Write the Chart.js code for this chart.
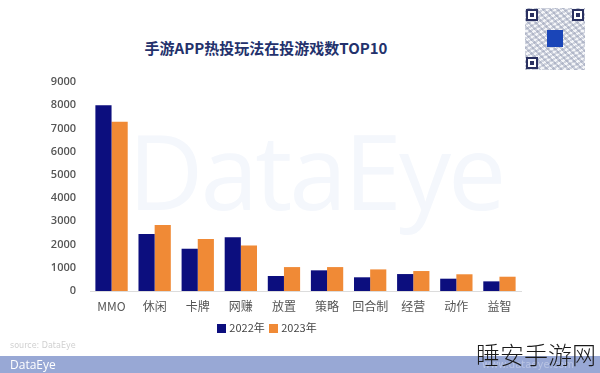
<!DOCTYPE html>
<html>
<head>
<meta charset="utf-8">
<script src="https://cdn.jsdelivr.net/npm/chart.js@4/dist/chart.umd.min.js"></script>
<style>
  html,body{margin:0;padding:0;background:#fff;}
  #wrap{position:relative;width:600px;height:373px;overflow:hidden;background:#fff;font-family:"Noto Sans CJK SC","Noto Sans",sans-serif;}
  #wm{position:absolute;left:128px;top:118px;font-family:"Open Sans","Noto Sans",sans-serif;font-size:104px;color:#f4f7fc;letter-spacing:-3px;line-height:1;}
  #title{position:absolute;left:0;width:532px;top:37px;text-align:center;font-size:15px;font-weight:bold;color:#23316c;}
  #qr{position:absolute;left:525px;top:8px;width:60px;height:62px;
      background:
        repeating-linear-gradient(45deg,rgba(120,130,160,.35) 0 2px,transparent 2px 5px),
        repeating-linear-gradient(-30deg,rgba(120,130,160,.3) 0 2px,transparent 2px 4px),#f4f5f8;}
  .fd{position:absolute;width:8px;height:8px;border:2px solid #2a3060;background:#fff;}
  .fd::after{content:"";position:absolute;left:2px;top:2px;width:4px;height:4px;background:#2a3060;}
  #qc{position:absolute;left:22px;top:22px;width:16px;height:17px;background:#1a45b8;}
  canvas{position:absolute;left:0;top:0;}
  #legend{position:absolute;left:0;width:532px;top:319px;text-align:center;font-size:11px;color:#444;}
  #legend span.sw{display:inline-block;width:9px;height:9px;margin:0 3px 0 2px;vertical-align:-1px;}
  #src{position:absolute;left:10px;top:341px;font-size:8px;color:#d0d0d0;font-family:"DejaVu Sans",sans-serif;}
  #band{position:absolute;left:0;top:356px;width:600px;height:17px;background:#98a8d5;}
  #band .l{position:absolute;left:10px;top:0px;font-size:12px;color:#fff;font-family:"Open Sans",sans-serif;line-height:17px;}
  #band .r{position:absolute;left:482px;top:0px;font-size:10px;color:#b8c3e3;line-height:17px;font-family:"DejaVu Sans",sans-serif;}
  #brand{position:absolute;left:476px;top:336px;font-size:24px;color:#1a1a1a;font-family:"Noto Sans CJK SC",sans-serif;font-weight:300;}
</style>
</head>
<body>
<div id="wrap">
  <div id="wm">DataEye</div>
  <div id="title">手游APP热投玩法在投游戏数TOP10</div>
  <div id="qr"><div class="fd" style="left:1px;top:1px"></div><div class="fd" style="right:1px;top:1px"></div><div class="fd" style="left:1px;bottom:1px"></div><div id="qc"></div></div>
  <canvas id="c" width="600" height="373"></canvas>
  <div id="legend"><span class="sw" style="background:#0c0e7e"></span>2022年 <span class="sw" style="background:#f08a36"></span>2023年</div>
  <div id="src">source: DataEye</div>
  <div id="band"><span class="l">DataEye</span><span class="r">www.dataeye.com</span></div>
  <div id="brand">睡安手游网</div>
</div>
<script>
const categories = ["MMO","休闲","卡牌","网赚","放置","策略","回合制","经营","动作","益智"];
const values2022 = [8000,2450,1820,2310,645,890,590,730,530,415];
const values2023 = [7290,2840,2240,1960,1030,1030,930,860,720,615];
const yTicks = [0,1000,2000,3000,4000,5000,6000,7000,8000,9000];

new Chart(document.getElementById('c'), {
  type: 'bar',
  data: {
    labels: categories,
    datasets: [
      {label:'2022年', data: values2022, backgroundColor:'#0c0e7e', barPercentage:1.0, categoryPercentage:0.75},
      {label:'2023年', data: values2023, backgroundColor:'#f08a36', barPercentage:1.0, categoryPercentage:0.75}
    ]
  },
  options: {
    responsive:false,
    animation:false,
    layout:{padding:{left:0,right:79,top:82,bottom:52}},
    plugins:{legend:{display:false},tooltip:{enabled:false}},
    scales:{
      x:{
        grid:{display:false,drawTicks:false},
        border:{display:true,color:'#dcdcdc',width:1},
        ticks:{color:'#555',font:{family:'"Noto Sans CJK SC"',size:12},padding:8,maxRotation:0},
        afterFit:(s)=>{s.height=30;}
      },
      y:{
        min:0,max:9000,
        afterBuildTicks:(s)=>{s.ticks = yTicks.map(v=>({value:v}));},
        grid:{display:false},
        border:{display:false},
        ticks:{color:'#555',font:{family:'"Open Sans"',size:11,weight:'600'},padding:6,callback:(v)=>String(v)},
        afterFit:(s)=>{s.width=90;}
      }
    }
  }
});
</script>
</body>
</html>
